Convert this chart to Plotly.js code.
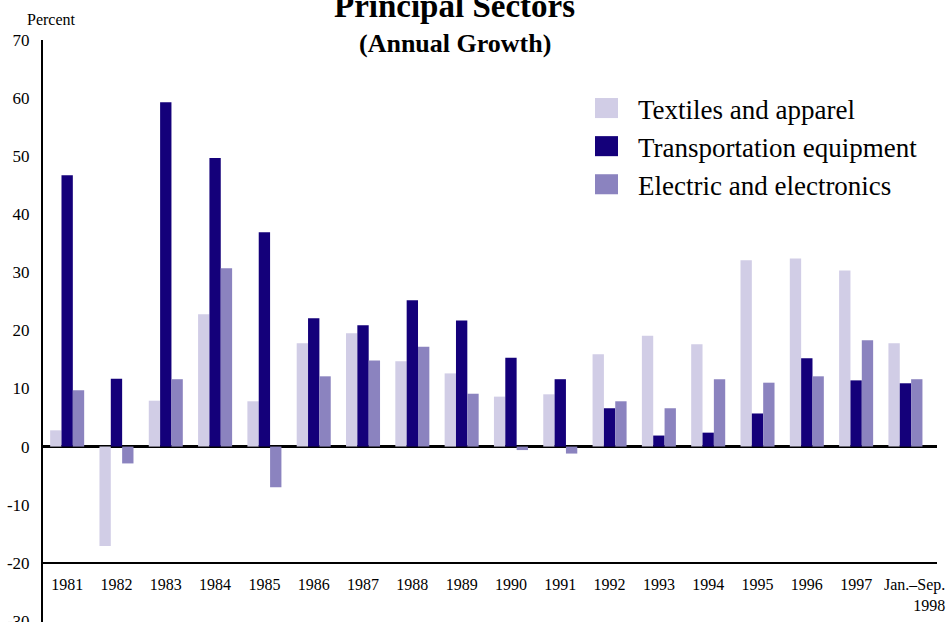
<!DOCTYPE html>
<html>
<head>
<meta charset="utf-8">
<script src="https://cdn.plot.ly/plotly-3.0.1.min.js"></script>
<style>html,body{margin:0;padding:0;background:#fff;}#chart{width:950px;height:622px;}</style>
</head>
<body>
<div id="chart"></div>
<script>
var categories = ["1981","1982","1983","1984","1985","1986","1987","1988","1989","1990","1991","1992","1993","1994","1995","1996","1997","Jan.–Sep. 1998"];
var tickLabels = ["1981","1982","1983","1984","1985","1986","1987","1988","1989","1990","1991","1992","1993","1994","1995","1996","1997",""];
var lastTickLabel = "Jan.–Sep.<br>1998";
var textiles = [2.8,-17.1,7.9,22.8,7.8,17.8,19.5,14.7,12.6,8.6,9.0,15.9,19.1,17.6,32.1,32.4,30.3,17.8];
var transport = [46.7,11.7,59.3,49.7,36.9,22.1,20.9,25.2,21.7,15.3,11.6,6.6,1.9,2.4,5.7,15.2,11.4,10.9];
var electric = [9.7,-2.9,11.6,30.7,-7.0,12.1,14.8,17.2,9.1,-0.6,-1.2,7.8,6.6,11.6,11.0,12.1,18.3,11.6];
var seriesNames = ["Textiles and apparel","Transportation equipment","Electric and electronics"];
var seriesColors = ["#D1CDE6","#14007A","#8B83BF"];
var yTicks = [-30,-20,-10,0,10,20,30,40,50,60,70];
var yTickText = ["-30","-20","-10","0","10","20","30","40","50","60","70"];

var serif = "Liberation Serif, Times New Roman, serif";
var data = [textiles, transport, electric].map(function(v, i){
  return {type:"bar", name:seriesNames[i], x:categories, y:v,
          marker:{color:seriesColors[i], line:{width:0}}, hoverinfo:"x+y"};
});

function px(x){ return (x - 43) / 894; }
function py(y){ return (622 - y) / 582; }

var layout = {
  width:950, height:622,
  margin:{l:43, r:13, t:40, b:0, pad:0},
  paper_bgcolor:"#fff", plot_bgcolor:"#fff",
  barmode:"group", bargap:0.31, bargroupgap:0,
  font:{family:serif, color:"#000"},
  title:{text:"<b>Principal Sectors</b>", font:{family:serif, size:33, color:"#000"},
         x:454.5/950, xanchor:"center", xref:"container", y:1-5.5/622, yanchor:"middle", yref:"container"},
  xaxis:{type:"category", anchor:"free", position:(-20+30.2)/100.2, showline:true, linewidth:2, linecolor:"#000",
         showgrid:false, zeroline:false, ticks:"", ticklabelstandoff:7, tickangle:0,
         tickvals:categories, ticktext:tickLabels,
         tickfont:{family:serif, size:16, color:"#000"},
         range:[-0.49,17.64], fixedrange:true, automargin:false},
  yaxis:{range:[-30.2,70], tickvals:yTicks, ticktext:yTickText, showline:true, linewidth:2, linecolor:"#000", showgrid:false,
         zeroline:true, zerolinewidth:2.5, zerolinecolor:"#000", ticks:"", ticklabelstandoff:8,
         ticklabeloverflow:"allow",
         tickfont:{family:serif, size:17, color:"#000"}, fixedrange:true, automargin:false},
  legend:{x:px(575), xanchor:"left", y:py(84), yanchor:"top", bgcolor:"rgba(0,0,0,0)",
          font:{family:serif, size:27, color:"#000"}, tracegroupgap:0, itemwidth:53},
  annotations:[
    {text:"<b>(Annual Growth)</b>", xref:"paper", yref:"paper", x:px(454.5), y:py(44),
     xanchor:"center", yanchor:"middle", showarrow:false, font:{family:serif, size:26, color:"#000"}},
    {text:"Percent", xref:"paper", yref:"paper", x:px(51), y:py(20),
     xanchor:"center", yanchor:"middle", showarrow:false, font:{family:serif, size:16, color:"#000"}},
    {text:lastTickLabel, xref:"x", yref:"paper", x:categories[categories.length-1], xshift:42, y:py(574),
     xanchor:"right", yanchor:"top", align:"right", showarrow:false, font:{family:serif, size:16, color:"#000"}}
  ],
  showlegend:true
};
Plotly.newPlot("chart", data, layout, {displayModeBar:false, staticPlot:true}).then(function(gd){
  gd.querySelectorAll(".legendpoints path").forEach(function(p){
    var t = p.getAttribute("transform") || "";
    p.setAttribute("transform", t + " scale(1.92,1.67)");
  });
});
</script>
</body>
</html>
